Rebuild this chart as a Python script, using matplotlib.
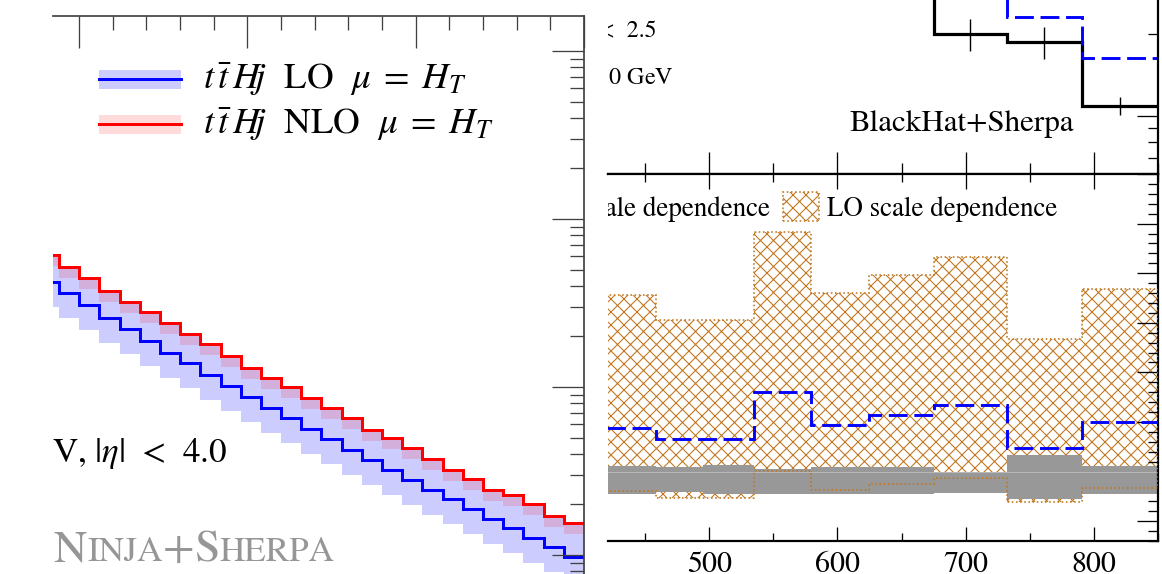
import numpy as np
import matplotlib
matplotlib.use("Agg")
import matplotlib.pyplot as plt
from matplotlib.patches import Rectangle
from matplotlib.lines import Line2D
from matplotlib.ticker import MultipleLocator, LogLocator, NullFormatter

plt.rcParams.update({
    "font.family": "STIXGeneral",
    "mathtext.fontset": "stix",
    "hatch.linewidth": 1.0,
})

DPI = 78
W, H = 1162, 574
PT = 72.0 / DPI          # points per pixel

# ---------------- left panel: ttHj, H_T spectrum ----------------
ht_edges = np.arange(190, 1001, 30)
nlo_ht = np.array([6.107e-4, 5.202e-4, 4.436e-4, 3.743e-4, 3.219e-4, 2.783e-4,
                   2.395e-4, 2.068e-4, 1.796e-4, 1.529e-4, 1.303e-4, 1.127e-4,
                   9.96e-5, 8.565e-5, 7.468e-5, 6.568e-5, 5.546e-5, 4.95e-5,
                   4.316e-5, 3.711e-5, 3.206e-5, 2.834e-5, 2.437e-5, 2.276e-5,
                   2.012e-5, 1.707e-5, 1.544e-5])
lo_ht = np.array([4.235e-4, 3.612e-4, 3.077e-4, 2.585e-4, 2.206e-4, 1.878e-4,
                  1.600e-4, 1.384e-4, 1.179e-4, 1.014e-4, 8.757e-5, 7.468e-5,
                  6.514e-5, 5.600e-5, 4.884e-5, 4.217e-5, 3.677e-5, 3.206e-5,
                  2.795e-5, 2.437e-5, 2.145e-5, 1.871e-5, 1.631e-5, 1.442e-5,
                  1.257e-5, 1.121e-5, 9.77e-6])
# scale-variation envelopes relative to the central predictions
lo_scale_up = np.array([1.422, 1.420, 1.422, 1.428, 1.440, 1.462, 1.476, 1.474,
                        1.503, 1.488, 1.468, 1.488, 1.509, 1.509, 1.509, 1.536,
                        1.488, 1.523, 1.523, 1.503, 1.474, 1.494, 1.474, 1.557,
                        1.578, 1.503, 1.559])
lo_scale_dn = 0.71
nlo_scale_up = 1.01
nlo_scale_dn = 0.86

# ---------------- right panel: jet p_T spectrum and ratio ----------------
pt_edges = np.array([400, 458, 495, 535, 579, 625, 675, 732, 791, 850])
nlo_pt = np.array([8.5e-3, 7.0e-3, 6.0e-3, 5.0e-3, 4.0e-3, 3.2e-3, 2.0e-3, 1.87e-3, 1.089e-3])
nlo_pt_err = np.array([0.40e-3, 0.35e-3, 0.30e-3, 0.30e-3, 0.25e-3, 0.25e-3, 0.27e-3, 0.25e-3, 0.083e-3])
lo_pt = np.array([12.27e-3, 9.27e-3, 7.94e-3, 9.0e-3, 5.87e-3, 5.02e-3, 3.34e-3, 2.317e-3, 1.628e-3])
lo_band_hi = np.array([2.776, 2.524, 2.524, 3.413, 2.799, 2.977, 3.162, 2.333, 2.836])
lo_band_lo = np.array([0.803, 0.733, 0.733, 1.005, 0.813, 0.874, 0.937, 0.695, 0.833])
nlo_band_hi = np.array([1.055, 1.042, 1.065, 1.028, 1.048, 1.042, 0.995, 1.166, 1.055])
nlo_band_lo = np.array([0.773, 0.796, 0.770, 0.770, 0.770, 0.773, 0.781, 0.720, 0.770])

ORANGE = "#c0761e"
GRAYBAND = "#989898"
AXGRAY = "#404040"

fig = plt.figure(figsize=(W / DPI, H / DPI), dpi=DPI, facecolor="white")


def add_axes_px(x0, y0, x1, y1):
    return fig.add_axes([x0 / W, 1 - y1 / H, (x1 - x0) / W, (y1 - y0) / H])


def fxy(x, y):
    return x / W, 1 - y / H


# ======================= left panel =======================
axL = add_axes_px(53, 16, 584, 620)
axL.set_xlim(211.1, 1000)
axL.set_yscale("log")
axL.set_ylim(4.1025e-6, 1.6156e-2)

axL.stairs(lo_ht * lo_scale_up, ht_edges, baseline=lo_ht * lo_scale_dn, fill=True,
           facecolor=(0, 0, 1, 0.2), edgecolor="none", lw=0)
axL.stairs(nlo_ht * nlo_scale_up, ht_edges, baseline=nlo_ht * nlo_scale_dn, fill=True,
           facecolor=(1, 0, 0, 0.14), edgecolor="none", lw=0)
axL.stairs(lo_ht, ht_edges, baseline=None, color="#0000ff", lw=3 * PT)
axL.stairs(nlo_ht, ht_edges, baseline=None, color="#ff0000", lw=3 * PT)

axL.xaxis.set_major_locator(MultipleLocator(250))
axL.xaxis.set_minor_locator(MultipleLocator(50))
axL.yaxis.set_major_locator(LogLocator(base=10, numticks=20))
axL.yaxis.set_minor_locator(LogLocator(base=10, subs=np.arange(2, 10), numticks=100))
axL.yaxis.set_minor_formatter(NullFormatter())
axL.tick_params(which="both", direction="in", top=True, right=True, bottom=False, left=False,
                labelbottom=False, labelleft=False, color=AXGRAY, width=1.3 * PT)
axL.tick_params(which="major", length=32 * PT)
axL.tick_params(which="minor", length=14 * PT)
for s in ("left", "bottom"):
    axL.spines[s].set_visible(False)
for s in ("top", "right"):
    axL.spines[s].set_color(AXGRAY)
    axL.spines[s].set_linewidth(1.7 * PT)

# legend
for yc, col, fc, lab in [(79, "#0000ff", (0, 0, 1, 0.2), r"$t\,\bar{t}\,H\!j$  LO  $\mu\;=\;H_T$"),
                         (124, "#ff0000", (1, 0, 0, 0.14), r"$t\,\bar{t}\,H\!j$  NLO  $\mu\;=\;H_T$")]:
    x0, y0 = fxy(99, yc + 9.5)
    fig.add_artist(Rectangle((x0, y0), 82 / W, 19 / H, transform=fig.transFigure,
                             facecolor=fc, edgecolor="none"))
    fig.add_artist(Line2D([99 / W, 181 / W], [1 - yc / H] * 2, transform=fig.transFigure,
                          color=col, lw=3 * PT))
    fig.text(*fxy(203, yc + 10), lab, fontsize=37 * PT, va="baseline", ha="left")

axL.text(*fxy(227, 462), r"$p_T > 25$ GeV, $|\eta|\;\,<\;\,4.0$", transform=fig.transFigure,
         fontsize=35 * PT, ha="right", va="baseline", clip_on=True)

# small-caps group label
renderer = fig.canvas.get_renderer()
xcur = 54
for piece, size in [("N", 46), ("INJA", 35), ("+", 46), ("S", 46), ("HERPA", 35)]:
    t = axL.text(*fxy(xcur, 561), piece, transform=fig.transFigure, fontsize=size * PT,
                 color="#969696", ha="left", va="baseline", clip_on=True)
    xcur += t.get_window_extent(renderer).width

# ======================= right panel =======================
axT = add_axes_px(608, -120, 1158, 174)
axB = add_axes_px(608, 174, 1158, 541)
for ax in (axT, axB):
    ax.set_xlim(420.83, 850.27)
    ax.xaxis.set_major_locator(MultipleLocator(100))
    ax.xaxis.set_minor_locator(MultipleLocator(50))
    ax.spines["left"].set_visible(False)
    for s in ("top", "right", "bottom"):
        ax.spines[s].set_linewidth(2.2 * PT)

# upper: spectra
axT.set_yscale("log")
axT.set_ylim(6.117e-4, 7.373e-3)
axT.stairs(nlo_pt, pt_edges, baseline=None, color="black", lw=3.2 * PT)
axT.stairs(lo_pt, pt_edges, baseline=None, color="#0000ff", lw=2.9 * PT,
           linestyle=(0, (6.5, 2.3)))
centers = 0.5 * (pt_edges[:-1] + pt_edges[1:])
axT.errorbar(centers, nlo_pt, yerr=nlo_pt_err, fmt="none", ecolor="black",
             elinewidth=1.4 * PT, capsize=0)
axT.spines["top"].set_visible(False)
axT.yaxis.set_major_locator(LogLocator(base=10, numticks=20))
axT.yaxis.set_minor_locator(LogLocator(base=10, subs=np.arange(2, 10), numticks=100))
axT.yaxis.set_minor_formatter(NullFormatter())
axT.tick_params(which="both", direction="in", top=False, right=True, bottom=True, left=False,
                labelbottom=False, labelleft=False, width=1.3 * PT)
axT.tick_params(axis="x", which="major", length=22 * PT)
axT.tick_params(axis="x", which="minor", length=11 * PT)
axT.tick_params(axis="y", which="major", length=21 * PT)
axT.tick_params(axis="y", which="minor", length=9.5 * PT)

axT.text(*fxy(657, 37), "|η| <  2.5", transform=fig.transFigure, fontsize=24 * PT,
         ha="right", va="baseline", clip_on=True)
axT.text(*fxy(673, 85), r"$p_T^{\rm jet}$ > 30 GeV", transform=fig.transFigure,
         fontsize=24 * PT, ha="right", va="baseline", clip_on=True)
axT.text(*fxy(1074, 131), "BlackHat+Sherpa", transform=fig.transFigure,
         fontsize=31 * PT, ha="right", va="baseline")

# lower: ratio to NLO
axB.set_ylim(0.3, 4.0)
axB.stairs(lo_band_hi, pt_edges, baseline=lo_band_lo, fill=True, facecolor="none",
           edgecolor=ORANGE, hatch="xx", lw=0, zorder=1)
axB.stairs(nlo_band_hi, pt_edges, baseline=nlo_band_lo, fill=True, facecolor=GRAYBAND,
           edgecolor="none", lw=0, zorder=2)
axB.axhline(1.0, color="#b8b8b8", lw=1.0 * PT, zorder=2.5)
axB.stairs(lo_band_hi, pt_edges, baseline=lo_band_lo, fill=False, edgecolor=ORANGE,
           lw=1.6 * PT, linestyle=(0, (1, 1.6)), zorder=3)
axB.stairs(lo_pt / nlo_pt, pt_edges, baseline=None, color="#0000ff", lw=2.9 * PT,
           linestyle=(0, (6.5, 2.3)), zorder=4)
axB.yaxis.set_major_locator(MultipleLocator(0.5))
axB.yaxis.set_minor_locator(MultipleLocator(0.1))
axB.tick_params(which="both", direction="in", top=True, right=True, bottom=True, left=False,
                labelleft=False, labelbottom=True, width=1.3 * PT,
                labelsize=30 * PT, pad=9)
axB.tick_params(axis="x", which="major", length=14.5 * PT)
axB.tick_params(axis="x", which="minor", length=8 * PT)
axB.tick_params(axis="y", which="major", length=21 * PT)
axB.tick_params(axis="y", which="minor", length=9.5 * PT)

# legend of the ratio panel
axB.text(*fxy(770, 216), "NLO scale dependence", transform=fig.transFigure,
         fontsize=27 * PT, ha="right", va="baseline", clip_on=True)
lx, ly = fxy(783, 221)
axB.add_patch(Rectangle((lx, ly), 36 / W, 29 / H, transform=fig.transFigure,
                        facecolor="none", edgecolor=ORANGE, hatch="xx", lw=1.6 * PT,
                        linestyle=(0, (1, 1.6)), clip_on=False))
axB.text(*fxy(827, 216), "LO scale dependence", transform=fig.transFigure,
         fontsize=27 * PT, ha="left", va="baseline")

fig.savefig("out.png", dpi=DPI, facecolor="white")
